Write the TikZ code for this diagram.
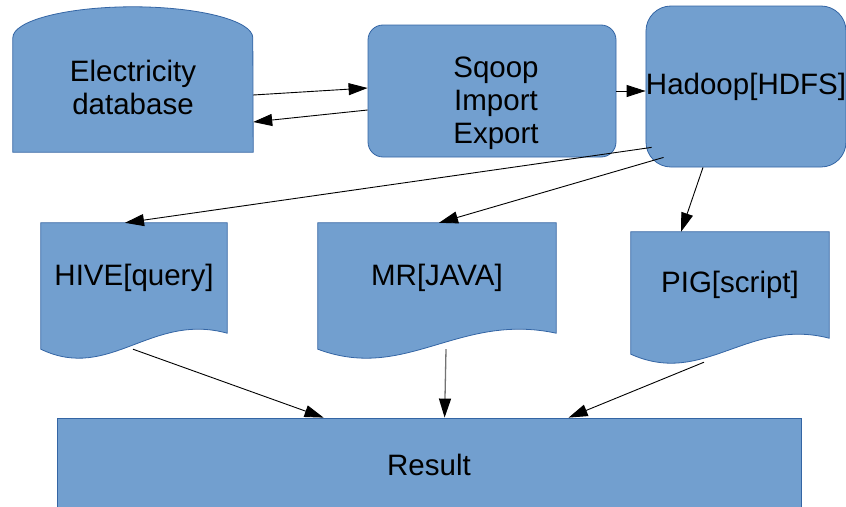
\documentclass[tikz,border=0pt]{standalone}
\usepackage{fontspec}
\setmainfont{Liberation Sans}
\usetikzlibrary{arrows.meta,calc,backgrounds}
\definecolor{boxfill}{HTML}{729FCF}
\definecolor{boxline}{HTML}{3465A4}
\newcommand\docwave[2]{\path[shapestyle] (#1.north west) -- (#1.north east) -- (#1.south east)
  .. controls ($(#1.south east)+(-0.41*#2,-21)$) and ($(#1.south west)+(0.37*#2,49)$) .. ($(#1.south west)+(0,16)$) -- cycle;}
\begin{document}
\begin{tikzpicture}[x=1pt,y=-1pt,
  shapestyle/.style={fill=boxfill,draw=boxline,line width=0.8pt},
  lbl/.style={font=\fontsize{29.5}{33}\selectfont, align=center, inner sep=0pt, text=black},
  conn/.style={-{Triangle[length=19pt,width=12pt,color=black]}, line width=0.9pt, black},
  mrline/.style={draw=black!55, line width=1.3pt}]
\useasboundingbox (0,0) rectangle (846,506);

% invisible frames of the shapes
\node[minimum width=240pt, minimum height=114pt, inner sep=0pt] (elec) at (133,95) {};
\node[lbl, minimum width=186pt, minimum height=110pt] (hive) at (134,278) {HIVE[query]};
\node[lbl, minimum width=238pt, minimum height=110pt] (mr) at (437,278) {MR[JAVA]};
\node[lbl, minimum width=198pt, minimum height=106pt] (pig) at (730,285) {PIG[script]};

\begin{scope}[on background layer]
  \path[shapestyle] (elec.south west) -- (elec.north west)
    arc[start angle=180, end angle=0, x radius=120pt, y radius=31pt] -- (elec.south east) -- cycle;
  \docwave{hive}{186}
  \docwave{mr}{238}
  \docwave{pig}{198}
\end{scope}

\node[lbl] (electxt) at (133,87) {Electricity\\database};

\node[shapestyle, rounded corners=15pt, minimum width=248pt, minimum height=132pt] (sqoop) at (492,91) {};
\node[lbl] (sqooptxt) at (496,103) {Sqoop\\Import\\Export};

\node[shapestyle, lbl, rounded corners=25pt, minimum width=198pt, minimum height=161pt] (hadoop) at (746,86.5) {Hadoop[HDFS]};

\node[shapestyle, lbl, minimum width=744pt, minimum height=94pt] (result) at (429,465) {Result};

% connectors
\draw[conn] (elec.east) -- ($(sqoop.west)+(0,-3)$);
\draw[conn] ($(sqoop.west)+(0,19)$) -- ($(elec.east)+(0,27)$);
\draw[conn] (sqoop.east) -- (sqoop.east -| hadoop.west);
\draw[conn] ($(hadoop.south west)+(6,-20)$) -- ($(hive.north)+(-9,0)$);
\draw[conn] ($(hadoop.south west)+(18,-10)$) -- ($(mr.north)+(2,0)$);
\draw[conn] ($(hadoop.south)+(-43,0)$) -- ($(pig.north)+(-49,0)$);
\draw[conn] ($(hive.south)+(-1,16)$) -- ($(result.north west)+(267,0)$);
\draw[conn, mrline] ($(mr.south)+(9,16)$) -- ($(result.north west)+(388,0)$);
\draw[conn] ($(pig.south)+(-26,24)$) -- ($(result.north west)+(512,0)$);
\end{tikzpicture}
\end{document}
